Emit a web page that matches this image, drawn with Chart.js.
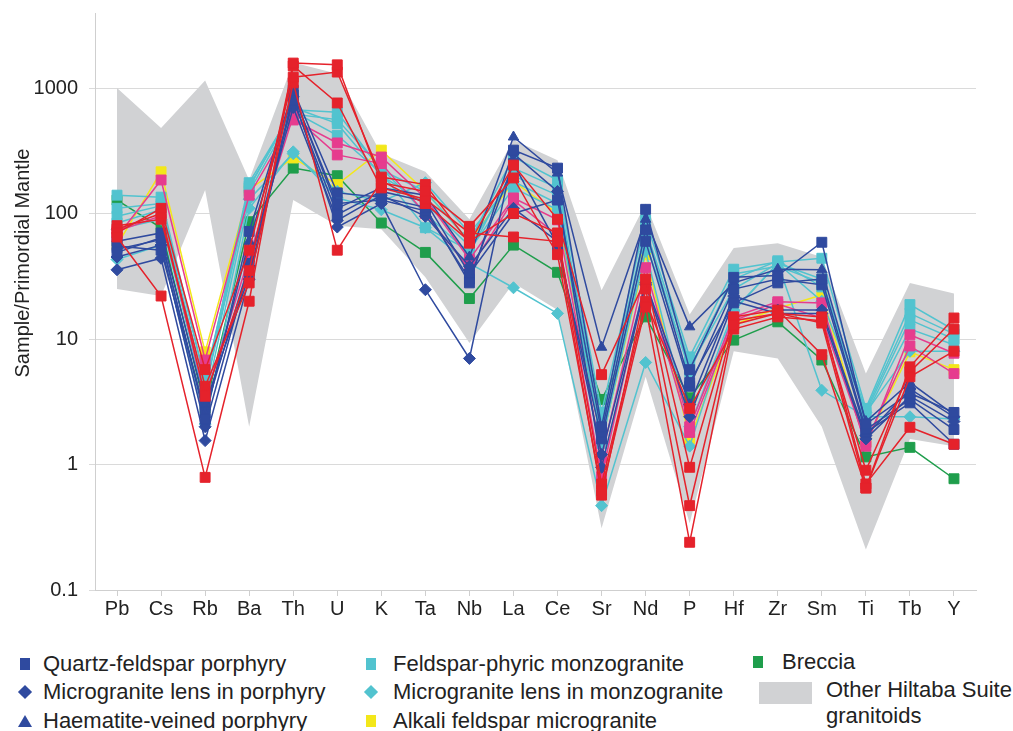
<!DOCTYPE html>
<html><head><meta charset="utf-8">
<script src="https://cdn.jsdelivr.net/npm/chart.js@4/dist/chart.umd.min.js"></script>
<style>
html,body{margin:0;padding:0;background:#fff;overflow:hidden;width:1013px;height:731px;font-family:"Liberation Sans",Arial,sans-serif;color:#222}
#wrap{position:absolute;left:0;top:0;width:1013px;height:640px}
#ytitle{position:absolute;left:22px;top:263px;transform:translate(-50%,-50%) rotate(-90deg);white-space:nowrap;font-size:20px}
.lg{position:absolute;font-size:22px;white-space:nowrap;line-height:26px}
.mk{position:absolute}
</style></head><body>
<div id="wrap"><canvas id="c"></canvas></div>
<div id="ytitle">Sample/Primordial Mantle</div>
<div id="legend"></div>
<script>
// ---- data ----
const categories = ['Pb','Cs','Rb','Ba','Th','U','K','Ta','Nb','La','Ce','Sr','Nd','P','Hf','Zr','Sm','Ti','Tb','Y'];
const yTickValues = [0.1, 1, 10, 100, 1000];
const yTickLabels = ['0.1', '1', '10', '100', '1000'];

// Other Hiltaba Suite granitoids envelope
const envUpper = [1000, 480, 1150, 185, 1600, 1300, 300, 215, 90, 385, 266, 24.5, 120, 15.7, 53, 58, 45, 5.3, 28, 23];
const envLower = [25, 22, 154, 2, 128, 80, 75, 31, 9.3, 28, 17, 0.31, 5, 0.34, 8, 7, 2.0, 0.21, 1.6, 1.4];

// Quartz-feldspar porphyry
const qfp1 = [49, 64, 2.3, 72, 960, 146, 135, 112, 28, 320, 230, 2.0, 108, 5.7, 31, 32, 59, 2.1, 3.7, 2.6];
const qfp2 = [55, 51, 2.6, 40, 800, 98, 150, 125, 33, 100, 128, 1.8, 74, 4.5, 19.4, 28, 30, 1.9, 3.3, 1.9];
const qfp3 = [60, 70, 3.0, 32, 880, 120, 128, 105, 30, 250, 56, 1.6, 60, 4.2, 25, 30, 27, 1.8, 3.1, 1.45];
// Microgranite lens in porphyry
const mlp1 = [35.6, 44, 1.55, 30, 850, 78, 120, 24.7, 7.0, 300, 150, 0.95, 27, 2.4, 20, 16, 16, 1.6, 3.5, 2.2];
const mlp2 = [45, 56, 2.0, 38, 700, 88, 140, 95, 38, 110, 60, 1.2, 28, 3.0, 22, 17, 17, 1.7, 4.0, 2.4];
// Haematite-veined porphyry
const hvp1 = [52, 62, 2.5, 60, 900, 110, 160, 140, 45, 407, 210, 8.6, 90, 12.5, 28, 36, 35.6, 2.2, 4.5, 2.5];
// Feldspar-phyric monzogranite
const fpm1 = [140, 135, 4.5, 176, 670, 640, 222, 150, 60, 282, 185, 2.6, 89, 7.2, 36, 41, 44, 2.8, 18.8, 11.8];
const fpm2 = [84, 107, 4.0, 165, 650, 420, 210, 77, 51, 160, 107, 1.47, 58, 6.0, 25, 40, 30, 2.6, 14.2, 10];
const fpm3 = [110, 120, 4.8, 160, 700, 520, 200, 120, 55, 200, 140, 2.2, 75, 6.5, 30, 42, 26, 2.7, 16, 11];
const fpm4 = [95, 115, 3.8, 150, 620, 560, 230, 100, 48, 230, 160, 1.8, 70, 5.5, 33, 38, 28, 2.5, 12, 9];
// Microgranite lens in monzogranite
const mlm1 = [43, 56, 2.1, 110, 310, 133, 107, 77, 40, 25.6, 16, 0.47, 6.5, 1.4, 16.7, 40, 3.9, 2.4, 2.4, 2.3];
const mlm2 = [75, 90, 3.2, 130, 300, 150, 125, 176, 70, 180, 120, 1.5, 50, 2.0, 17, 40, 20, 2.6, 8, 8];
// Alkali feldspar microgranite
const afm1 = [56, 215, 7.9, 155, 277, 170, 320, 150, 60, 180, 100, 1.5, 47, 1.6, 13, 17.6, 22.4, 1.5, 7.9, 5.7];
// Breccia
const brc1 = [128, 77, 2.8, 86, 230, 200, 84, 49, 21, 56, 34, 3.3, 15, 3.4, 9.8, 13.7, 6.8, 1.15, 1.37, 0.77];
// red samples
const red1 = [65, 22, 0.79, 20, 1580, 1530, 176, 150, 79, 192, 47, 0.62, 18, 0.24, 13, 16, 13.4, 0.65, 6, 14.7];
const red2 = [70, 110, 5.7, 51, 1220, 1340, 195, 170, 58, 243, 90, 5.2, 30, 0.95, 15, 17, 7.5, 0.65, 5, 8];
const red3 = [75, 100, 3.5, 35, 1500, 760, 160, 130, 70, 65, 60, 0.57, 25, 0.47, 14, 16, 15, 0.7, 1.98, 1.45];
const red4 = [80, 90, 4.2, 28, 1100, 51, 182, 120, 60, 100, 70, 0.7, 20, 2.8, 12, 15, 14, 0.9, 5.5, 12];
// pink samples
const pnk1 = [65, 185, 6.8, 140, 556, 365, 282, 133, 43, 133, 89, 1.14, 37, 2.0, 15, 19.8, 19.4, 1.4, 10.8, 7.7];
const pnk2 = [72, 96, 3.4, 45, 600, 293, 250, 100, 36, 128, 67, 0.8, 30, 1.8, 14, 19, 14.7, 1.5, 8.8, 5.3];

// ---- styles ----
const NAVY = '#2f4a9f', CYAN = '#52c3cf', YEL = '#f3e71a', GRN = '#1f9e4c', RED = '#e5222b', PNK = '#e63c8e', GREY = '#d1d2d4';

const series = [
  {d: red1, c: RED, s: 'rect'}, {d: red2, c: RED, s: 'rect'}, {d: red3, c: RED, s: 'rect'}, {d: red4, c: RED, s: 'rect'},
  {d: qfp1, c: NAVY, s: 'rect'}, {d: qfp2, c: NAVY, s: 'rect'}, {d: qfp3, c: NAVY, s: 'rect'},
  {d: mlp1, c: NAVY, s: 'rectRot'}, {d: mlp2, c: NAVY, s: 'rectRot'},
  {d: hvp1, c: NAVY, s: 'triangle'},
  {d: pnk1, c: PNK, s: 'rect'}, {d: pnk2, c: PNK, s: 'rect'},
  {d: fpm1, c: CYAN, s: 'rect'}, {d: fpm2, c: CYAN, s: 'rect'}, {d: fpm3, c: CYAN, s: 'rect'}, {d: fpm4, c: CYAN, s: 'rect'},
  {d: mlm1, c: CYAN, s: 'rectRot'}, {d: mlm2, c: CYAN, s: 'rectRot'},
  {d: afm1, c: YEL, s: 'rect'},
  {d: brc1, c: GRN, s: 'rect'}
];

const datasets = series.map(o => ({
  data: o.d, borderColor: o.c, backgroundColor: o.c, borderWidth: 1.5,
  pointStyle: o.s, pointRadius: o.s === 'rect' ? 7 : 6, pointBorderWidth: 1,
  pointBorderColor: o.c, pointBackgroundColor: o.c, tension: 0, fill: false
}));
datasets.push({data: envUpper, fill: '+1', backgroundColor: GREY, borderWidth: 0, borderColor: GREY, pointRadius: 0, tension: 0});
datasets.push({data: envLower, fill: false, backgroundColor: GREY, borderWidth: 0, borderColor: GREY, pointRadius: 0, tension: 0});

Chart.defaults.font.family = '"Liberation Sans", Arial, sans-serif';
new Chart(document.getElementById('c'), {
  type: 'line',
  data: {labels: categories, datasets},
  options: {
    responsive: true, maintainAspectRatio: false, animation: false,
    layout: {padding: {top: 13, right: 37, left: 0, bottom: 0}},
    plugins: {legend: {display: false}, tooltip: {enabled: false}},
    scales: {
      x: {
        type: 'category', offset: true,
        grid: {drawOnChartArea: false, drawTicks: true, tickLength: 6, color: '#cfcfcf', offset: false},
        border: {color: '#cfcfcf'},
        ticks: {font: {size: 20}, color: '#222', padding: 1, maxRotation: 0, autoSkip: false},
        afterFit: s => { s.height = 50; s.paddingLeft = 0; s.paddingRight = 0; }
      },
      y: {
        type: 'logarithmic', min: 0.1, max: 3960,
        afterBuildTicks: s => { s.ticks = yTickValues.map(v => ({value: v})); },
        ticks: {font: {size: 20}, color: '#222', padding: 11,
          callback: v => { const i = yTickValues.indexOf(v); return i >= 0 ? yTickLabels[i] : ''; }},
        grid: {color: '#dadada', tickLength: 6, drawTicks: true},
        border: {color: '#cfcfcf'},
        afterFit: s => { s.width = 95; s.paddingTop = 0; s.paddingBottom = 0; }
      }
    }
  }
});

// ---- legend (HTML) ----
const legendItems = [
  {x: 25, y: 664, t: 'Quartz-feldspar porphyry', c: NAVY, s: 'sq', tx: 43},
  {x: 25, y: 692, t: 'Microgranite lens in porphyry', c: NAVY, s: 'di', tx: 43},
  {x: 25, y: 721, t: 'Haematite-veined porphyry', c: NAVY, s: 'tr', tx: 43},
  {x: 371, y: 664, t: 'Feldspar-phyric monzogranite', c: CYAN, s: 'sq', tx: 393},
  {x: 371, y: 692, t: 'Microgranite lens in monzogranite', c: CYAN, s: 'di', tx: 393},
  {x: 371, y: 721, t: 'Alkali feldspar microgranite', c: YEL, s: 'sq', tx: 393},
  {x: 758, y: 662, t: 'Breccia', c: GRN, s: 'sq', tx: 782}
];
const lg = document.getElementById('legend');
legendItems.forEach(it => {
  const m = document.createElement('div');
  m.className = 'mk';
  if (it.s === 'sq') {
    m.style.cssText = `left:${it.x-5}px;top:${it.y-6}px;width:10px;height:12px;background:${it.c}`;
  } else if (it.s === 'di') {
    m.style.cssText = `left:${it.x-5}px;top:${it.y-5}px;width:10px;height:10px;background:${it.c};transform:rotate(45deg)`;
  } else {
    m.style.cssText = `left:${it.x-7}px;top:${it.y-6}px;width:0;height:0;border-left:7px solid transparent;border-right:7px solid transparent;border-bottom:12px solid ${it.c}`;
  }
  lg.appendChild(m);
  const t = document.createElement('div');
  t.className = 'lg';
  t.style.left = it.tx + 'px';
  t.style.top = (it.y - 13) + 'px';
  t.textContent = it.t;
  lg.appendChild(t);
});
const g = document.createElement('div');
g.className = 'mk';
g.style.cssText = `left:759px;top:682px;width:53px;height:22px;background:${GREY}`;
lg.appendChild(g);
[['Other Hiltaba Suite', 690], ['granitoids', 716]].forEach(([s, y]) => {
  const t = document.createElement('div');
  t.className = 'lg'; t.style.left = '826px'; t.style.top = (y - 13) + 'px'; t.textContent = s;
  lg.appendChild(t);
});
</script>
</body></html>
